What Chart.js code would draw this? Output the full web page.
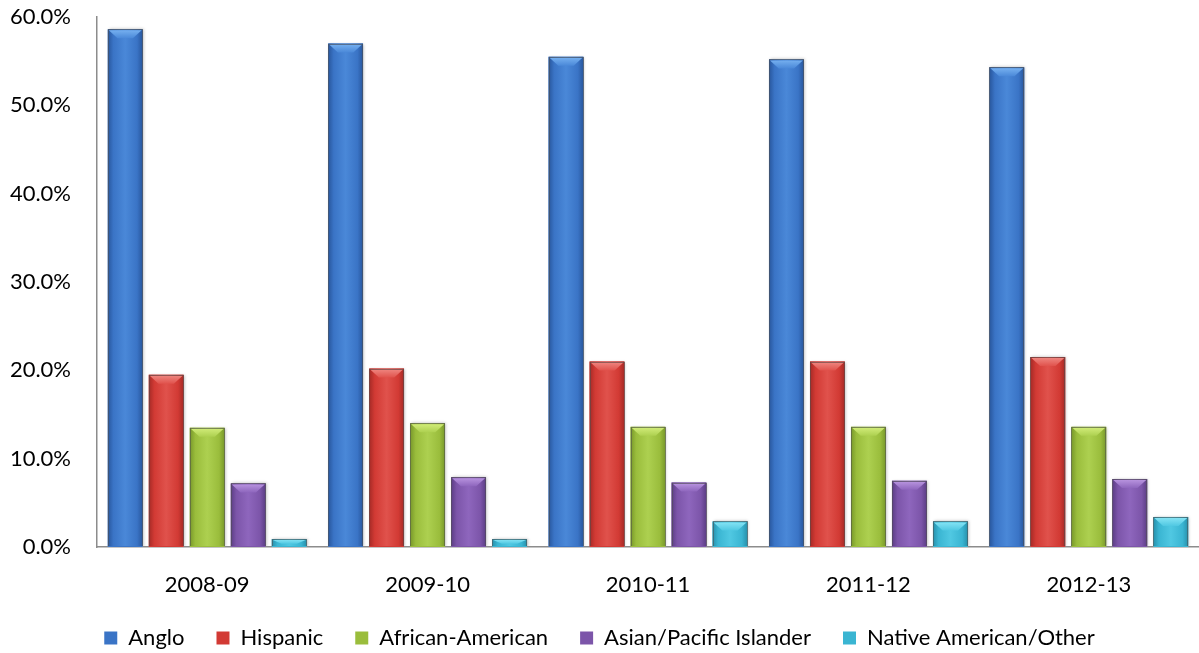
<!DOCTYPE html>
<html>
<head>
<meta charset="utf-8">
<script src="https://cdn.jsdelivr.net/npm/chart.js@4.4.0/dist/chart.umd.min.js"></script>
<style>
  html, body { margin: 0; padding: 0; background: #fff; overflow: hidden; }
  #wrap { width: 1199px; height: 653px; position: relative; }
</style>
</head>
<body>
<div id="wrap"><canvas id="c"></canvas></div>
<script>
// school years on the x axis
const years = ["2008-09", "2009-10", "2010-11", "2011-12", "2012-13"];

// share of students, percent
const anglo    = [58.6, 57.0, 55.5, 55.2, 54.3];
const hispanic = [19.5, 20.2, 21.0, 21.0, 21.5];
const african  = [13.5, 14.0, 13.6, 13.6, 13.6];
const asian    = [7.2, 7.9, 7.3, 7.5, 7.7];
const native   = [0.9, 0.9, 2.9, 2.9, 3.4];

const yTicks = [0, 10, 20, 30, 40, 50, 60];

// base / dark edge / light centre / bevel colours per series
const palette = [
  { mid: "#3a74c6", dark: "#28569c", light: "#4a88d8", cap: "#7ab4f2" },
  { mid: "#d23a34", dark: "#a42a26", light: "#e0524c", cap: "#f08a84" },
  { mid: "#9abd3c", dark: "#78982a", light: "#add050", cap: "#d4ee7c" },
  { mid: "#7c55a9", dark: "#5b3d84", light: "#8e66bd", cap: "#bc98e2" },
  { mid: "#3ab5d2", dark: "#2690ab", light: "#50c8e2", cap: "#8ae6f6" },
];

const series = [
  { label: "Anglo", data: anglo },
  { label: "Hispanic", data: hispanic },
  { label: "African-American", data: african },
  { label: "Asian/Pacific Islander", data: asian },
  { label: "Native American/Other", data: native },
];

const FONT = "Lato";

// repaint each bar with a glossy look (horizontal shading + bevelled top)
const glossBars = {
  id: "glossBars",
  afterDatasetDraw(chart, args) {
    const ctx = chart.ctx;
    const p = palette[args.index];
    const area = chart.chartArea;
    ctx.save();
    ctx.beginPath();
    ctx.rect(area.left, 0, area.right - area.left, area.bottom - 1);
    ctx.clip();
    args.meta.data.forEach((el) => {
      const { x, y, base, width } = el.getProps(["x", "y", "base", "width"], true);
      const l = x - width / 2, r = x + width / 2;
      const top = Math.min(y, base), bot = Math.max(y, base);
      const h = bot - top;
      if (h <= 0) return;

      ctx.save();
      ctx.shadowColor = "rgba(0,0,0,0.28)";
      ctx.shadowBlur = 3;
      ctx.shadowOffsetX = 1;
      const g = ctx.createLinearGradient(l, 0, r, 0);
      g.addColorStop(0, p.dark);
      g.addColorStop(0.16, p.mid);
      g.addColorStop(0.5, p.light);
      g.addColorStop(0.84, p.mid);
      g.addColorStop(1, p.dark);
      ctx.fillStyle = g;
      ctx.fillRect(l, top, width, h);
      ctx.restore();

      // bevel cap
      const d = Math.min(9, h * 0.6);
      const inset = width * 0.28;
      const cg = ctx.createLinearGradient(0, top, 0, top + d);
      cg.addColorStop(0, p.cap);
      cg.addColorStop(1, p.light);
      ctx.fillStyle = cg;
      ctx.beginPath();
      ctx.moveTo(l + 1, top + 1);
      ctx.lineTo(r - 1, top + 1);
      ctx.lineTo(r - inset, top + d);
      ctx.lineTo(l + inset, top + d);
      ctx.closePath();
      ctx.fill();

      ctx.strokeStyle = "rgba(80,80,80,0.55)";
      ctx.lineWidth = 1;
      ctx.strokeRect(Math.round(l) + 0.5, Math.round(top) + 0.5, Math.round(width) - 1, Math.round(h));
    });
    ctx.restore();
  },
};

new Chart(document.getElementById("c"), {
  type: "bar",
  data: {
    labels: years,
    datasets: series.map((s, i) => ({
      label: s.label,
      data: s.data,
      backgroundColor: palette[i].mid,
      borderColor: "#666",
      borderWidth: 0,
      categoryPercentage: 0.93,
      barPercentage: 0.85,
    })),
  },
  options: {
    responsive: true,
    maintainAspectRatio: false,
    animation: false,
    layout: { padding: { top: 17, right: 0, left: 0, bottom: 0 } },
    plugins: {
      tooltip: { enabled: false },
      legend: {
        position: "bottom",
        maxHeight: 58,
        labels: {
          font: { family: FONT, size: 22 },
          color: "#000",
          boxWidth: 13,
          boxHeight: 13,
          padding: 32,
        },
      },
    },
    scales: {
      x: {
        afterFit: (s) => { s.height = 48; },
        grid: { display: false, drawTicks: false },
        border: { display: true, color: "#8c8c8c", width: 1.5 },
        ticks: { font: { family: FONT, size: 22 }, color: "#000", padding: 25 },
      },
      y: {
        min: 0,
        max: 60,
        afterBuildTicks: (s) => { s.ticks = yTicks.map((v) => ({ value: v })); },
        afterFit: (s) => { s.width = 97; s.paddingTop = 0; s.paddingBottom = 0; },
        grid: { display: false, drawTicks: false },
        border: { display: true, color: "#8c8c8c", width: 1.5 },
        ticks: {
          font: { family: FONT, size: 22 },
          color: "#000",
          padding: 26,
          callback: (v) => Number(v).toFixed(1) + "%",
        },
      },
    },
  },
  plugins: [glossBars],
});
</script>
</body>
</html>
